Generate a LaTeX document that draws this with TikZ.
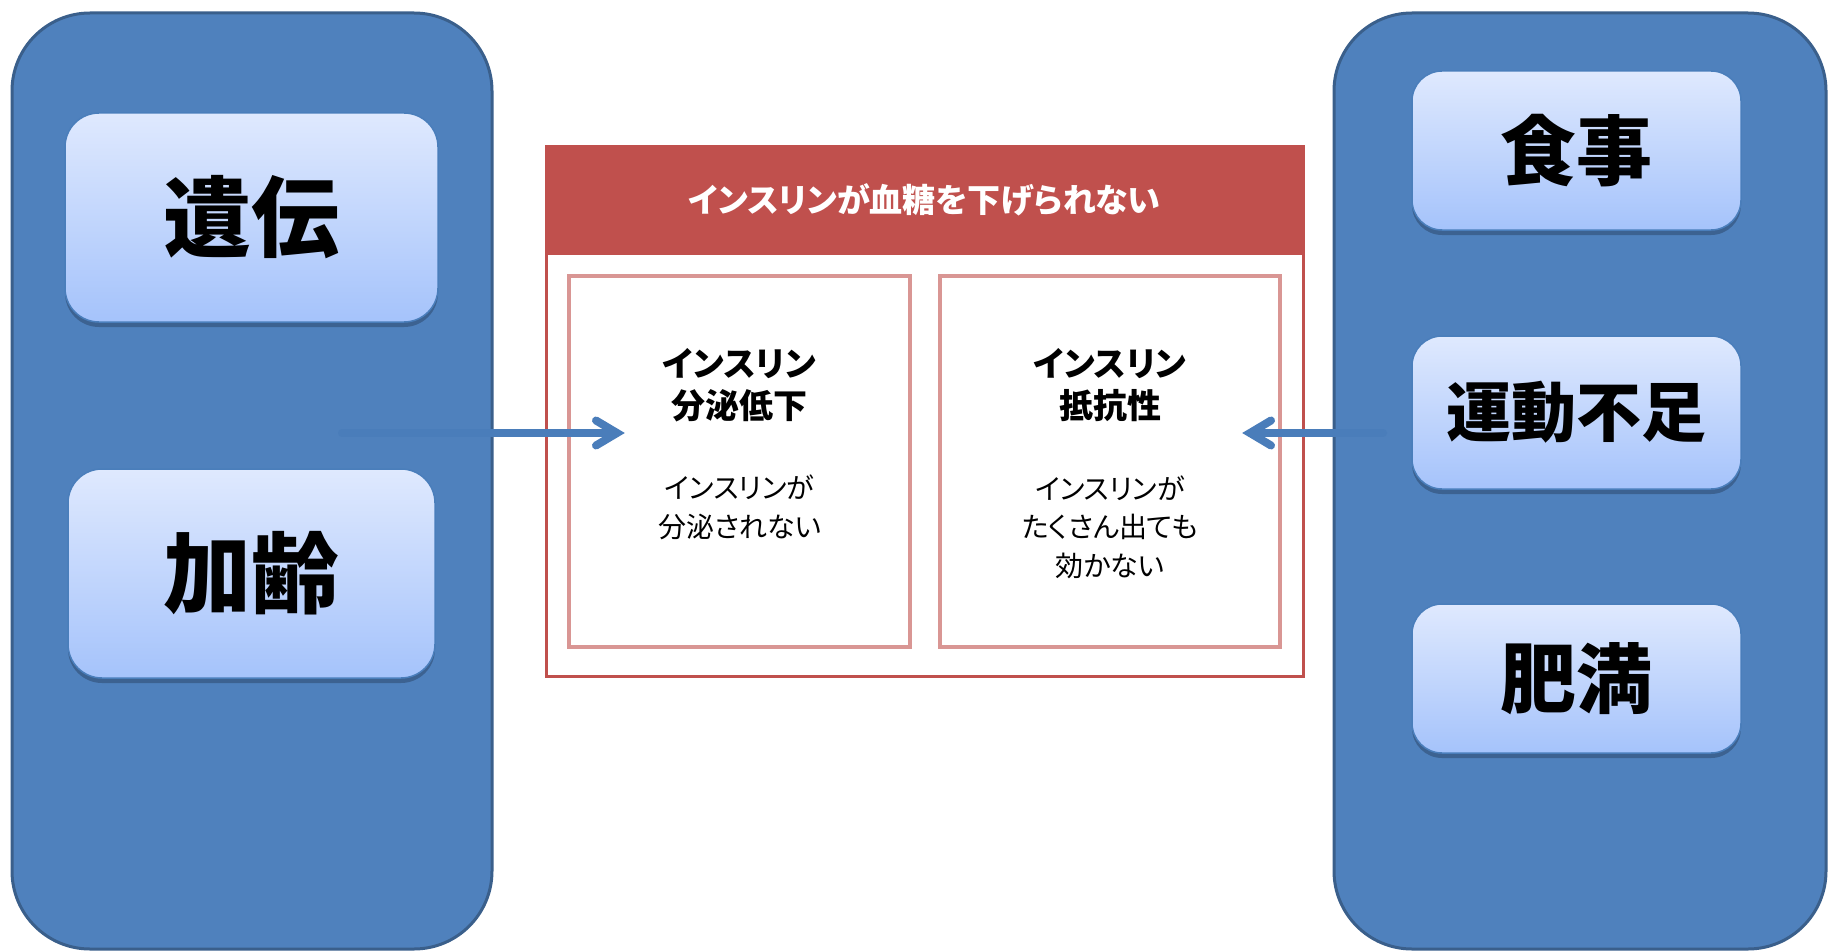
\documentclass[tikz,border=0pt]{standalone}
\usepackage{fontspec}
\newfontfamily\jp[RawFeature=+palt]{Noto Sans CJK JP}
\usetikzlibrary{arrows.meta,shadows}
\definecolor{bluefill}{HTML}{4F81BD}
\definecolor{blueedge}{HTML}{3A5F8B}
\definecolor{btop}{HTML}{DFE9FE}
\definecolor{bbot}{HTML}{A5C3FB}
\definecolor{bline}{HTML}{4A7EBB}
\definecolor{shadowc}{HTML}{34557F}
\definecolor{redc}{HTML}{C0504D}
\definecolor{pinkc}{HTML}{D99694}
\definecolor{arrowc}{HTML}{4A7DBA}
\begin{document}
\begin{tikzpicture}[x=1pt,y=-1pt,
  group/.style={draw=blueedge, line width=3pt, fill=bluefill, rounded corners=78pt, inner sep=0pt},
  factor/.style={draw=bline, line width=1.5pt, rounded corners=34pt, top color=btop, bottom color=bbot, inner sep=0pt,
    drop shadow={shadow xshift=0pt, shadow yshift=-5pt, fill=shadowc, opacity=0.7}},
  lbl/.style={font=\jp\bfseries\fontsize{#1}{#1}\selectfont, text=black},
  frame/.style={draw=redc, line width=3pt, inner sep=0pt},
  header/.style={fill=redc, inner sep=0pt, text=white, font=\jp\bfseries\fontsize{33}{33}\selectfont},
  pinkbox/.style={draw=pinkc, line width=4pt, inner sep=0pt},
  ttl/.style={align=center, font=\jp\bfseries\fontsize{34}{42}\selectfont},
  body/.style={align=center, font=\jp\fontsize{28}{38.5}\selectfont},
  conn/.style={draw=arrowc, line width=8pt, line cap=round, line join=miter}
]
\useasboundingbox (0,0) rectangle (1828,952);
\fill[white] (0,0) rectangle (1828,952);

% groups
\node[group, minimum width=480pt, minimum height=936pt] (lg) at (252,481) {};
\node[group, minimum width=492pt, minimum height=936pt] (rg) at (1580,481) {};

% factors left
\node[factor, minimum width=373pt, minimum height=209pt, lbl=88] (f1) at (251.5,217.5) {遺伝};
\node[factor, minimum width=367pt, minimum height=209pt, lbl=88] (f2) at (251.5,573.5) {加齢};
% factors right
\node[factor, minimum width=329pt, minimum height=159pt, rounded corners=30pt, lbl=76] (f3) at (1576.5,150.5) {食事};
\node[factor, minimum width=329pt, minimum height=153pt, rounded corners=30pt, lbl=65] (f4) at (1576.5,412.5) {運動不足};
\node[factor, minimum width=329pt, minimum height=149pt, rounded corners=30pt, lbl=76] (f5) at (1576.5,678.5) {肥満};

% central frame
\node[frame, minimum width=757pt, minimum height=529pt] (fr) at (924.5,411.5) {};
\node[header, minimum width=757pt, minimum height=109pt, anchor=north] (hd) at (fr.north) {インスリンが血糖を下げられない};
\node[pinkbox, minimum width=341pt, minimum height=371pt] (pl) at (739.5,461.5) {};
\node[pinkbox, minimum width=340pt, minimum height=371pt] (pr) at (1110,461.5) {};

\node[ttl] (tl) at (739.5,385) {インスリン\\分泌低下};
\node[body] (bl) at (739.5,507.5) {インスリンが\\分泌されない};
\node[ttl] (tr) at (1110,385) {インスリン\\抵抗性};
\node[body] (br) at (1110,527) {インスリンが\\たくさん出ても\\効かない};

% arrows
\coordinate (a0) at (342,433);
\coordinate (a1) at (617,433);
\coordinate (b0) at (1383,433);
\coordinate (b1) at (1250,433);
\draw[conn] (a0) -- ([xshift=-4pt]a1);
\draw[conn] ([xshift=-21pt,yshift=12.5pt]a1) -- (a1) -- ([xshift=-21pt,yshift=-12.5pt]a1);
\draw[conn] (b0) -- ([xshift=4pt]b1);
\draw[conn] ([xshift=21pt,yshift=12.5pt]b1) -- (b1) -- ([xshift=21pt,yshift=-12.5pt]b1);
\end{tikzpicture}
\end{document}
